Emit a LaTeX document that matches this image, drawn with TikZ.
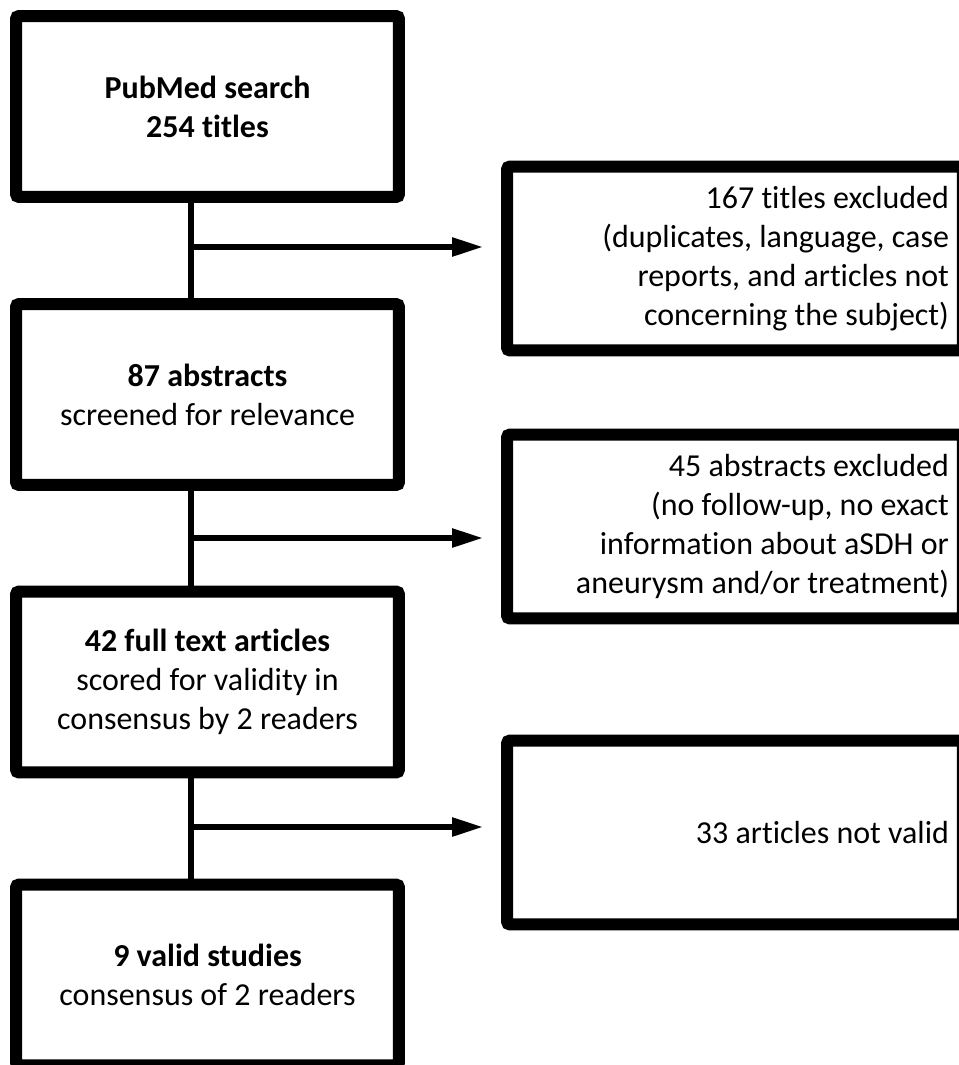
\documentclass[tikz,border=0pt]{standalone}
\usepackage{fontspec}
\setmainfont{Carlito}[RawFeature=-liga]
\usetikzlibrary{positioning, arrows.meta, calc}
\tikzset{
	stepnode/.style={
			draw=black,
			line width=0.24cm,
			rounded corners=0.6mm,
			fill=white,
			minimum width=7.66cm,
			minimum height=3.62cm,
			align=center,
			inner sep=0pt,
			font=\fontsize{18.2pt}{22.2pt}\selectfont
		},
	exclnode/.style={
			stepnode,
			minimum width=9.12cm,
			minimum height=3.68cm,
			text width=8.56cm,
			align=flush right,
			inner xsep=0.28cm
		},
	flowline/.style={
			draw=black,
			line width=0.11cm
		},
	exclarrow/.style={
			flowline,
			-{Triangle[length=0.62cm,width=0.36cm]},
			shorten >=0.36cm
		}
}

\begin{document}
\begin{tikzpicture}[x=0.02cm, y=-0.02cm]
\useasboundingbox (0,0) rectangle (959,1065);
\clip (0,0) rectangle (959,1065);

\node[stepnode] (nSearch) at (207.5,106.5) {\textbf{PubMed search}\\\textbf{254 titles}};
\node[stepnode] (nAbstracts) at (207.5,394.5) {\textbf{87 abstracts}\\screened for relevance};
\node[stepnode] (nFulltext) at (207.5,682) {\textbf{42 full text articles}\\scored for validity in\\consensus by 2 readers};
\node[stepnode] (nValid) at (207.5,975) {\textbf{9 valid studies}\\consensus of 2 readers};

\node[exclnode] (nExTitles) at (735,258.5) {167 titles excluded\\(duplicates, language, case\\reports, and articles not\\concerning the subject)};
\node[exclnode] (nExAbstracts) at (735,526.5) {45 abstracts excluded\\(no follow-up, no exact\\information about aSDH or\\aneurysm and/or treatment)};
\node[exclnode] (nNotValid) at (735,832.5) {33 articles not valid};

% branch points on the stems
\coordinate (bTitles) at (191,247);
\coordinate (bAbstracts) at (191,538);
\coordinate (bArticles) at (191,827);

\draw[flowline] (nSearch.south -| bTitles) -- (nAbstracts.north -| bTitles);
\draw[flowline] (nAbstracts.south -| bAbstracts) -- (nFulltext.north -| bAbstracts);
\draw[flowline] (nFulltext.south -| bArticles) -- (nValid.north -| bArticles);

\draw[exclarrow] (bTitles) -- (nExTitles.west |- bTitles);
\draw[exclarrow] (bAbstracts) -- (nExAbstracts.west |- bAbstracts);
\draw[exclarrow] (bArticles) -- (nNotValid.west |- bArticles);

\end{tikzpicture}
\end{document}
